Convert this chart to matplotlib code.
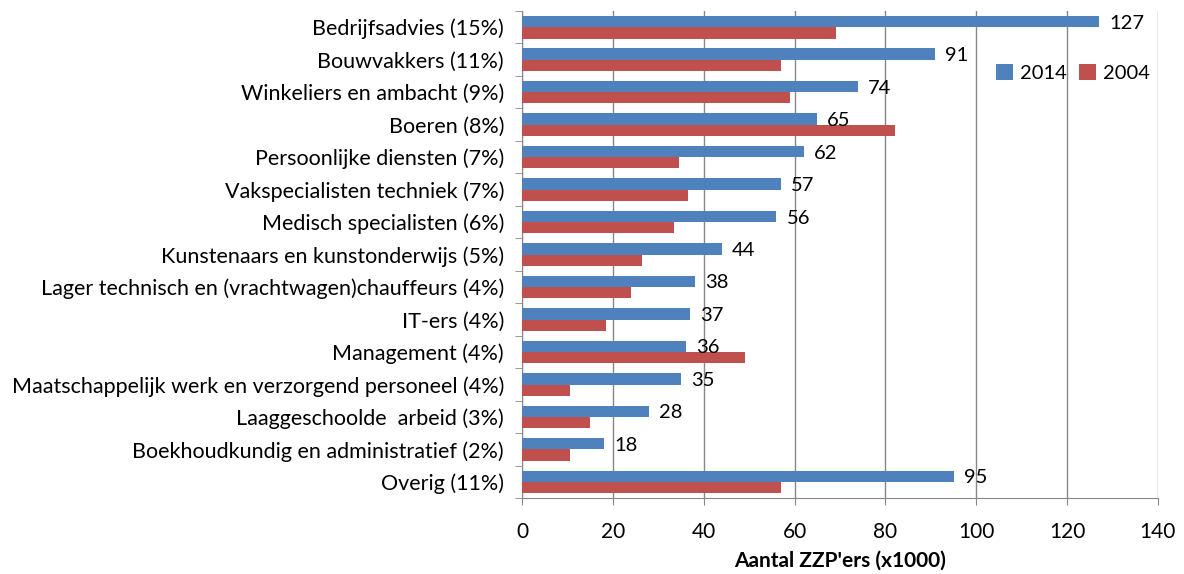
import matplotlib.pyplot as plt
import numpy as np

categories = [
    "Bedrijfsadvies (15%)",
    "Bouwvakkers (11%)",
    "Winkeliers en ambacht (9%)",
    "Boeren (8%)",
    "Persoonlijke diensten (7%)",
    "Vakspecialisten techniek (7%)",
    "Medisch specialisten (6%)",
    "Kunstenaars en kunstonderwijs (5%)",
    "Lager technisch en (vrachtwagen)chauffeurs (4%)",
    "IT-ers (4%)",
    "Management (4%)",
    "Maatschappelijk werk en verzorgend personeel (4%)",
    "Laaggeschoolde  arbeid (3%)",
    "Boekhoudkundig en administratief (2%)",
    "Overig (11%)",
]
data_2014 = [127, 91, 74, 65, 62, 57, 56, 44, 38, 37, 36, 35, 28, 18, 95]
data_2004 = [69, 57, 59, 82, 34.5, 36.5, 33.5, 26.5, 24, 18.5, 49, 10.5, 15, 10.5, 57]

plt.rcParams['font.family'] = ['Lato', 'DejaVu Sans']

fig = plt.figure(figsize=(11.84, 5.74), dpi=100)
ax = fig.add_axes([0.441, 0.132, 0.537, 0.849])

n = len(categories)
y = np.arange(n)
h = 0.35
blue = "#4F81BD"
red = "#C0504D"

ax.barh(y - h / 2, data_2014, height=h, color=blue, label="2014", zorder=3)
ax.barh(y + h / 2, data_2004, height=h, color=red, label="2004", zorder=3)

for yi, v in zip(y, data_2014):
    ax.text(v + 2.2, yi - h / 2 + 0.05, str(v), va="center", ha="left", fontsize=14.5, zorder=4)

ax.set_xlim(0, 140)
ax.set_ylim(n - 0.5, -0.5)
ax.set_xticks(range(0, 141, 20))
ax.set_yticks(y)
ax.set_yticklabels(categories, fontsize=15.5)
ax.set_yticks(np.arange(-0.5, n, 1), minor=True)
ax.tick_params(axis="y", which="major", length=0, pad=13)
ax.tick_params(axis="y", which="minor", length=5, color="#888888")
ax.tick_params(axis="x", length=5, color="#888888", labelsize=15, pad=12)

ax.grid(axis="x", color="#888888", linewidth=1, zorder=0)
for s in ["top", "right"]:
    ax.spines[s].set_visible(False)
for s in ["left", "bottom"]:
    ax.spines[s].set_color("#888888")

ax.set_xlabel("Aantal ZZP'ers (x1000)", fontsize=15, fontweight="bold", labelpad=6)

ax.legend(loc="center left", bbox_to_anchor=(0.745, 0.873), ncol=2, frameon=False,
          fontsize=14.5, handlelength=0.85, handleheight=0.85, handletextpad=0.35,
          columnspacing=0.6, borderpad=0, borderaxespad=0)

fig.savefig("out.png", dpi=100)
